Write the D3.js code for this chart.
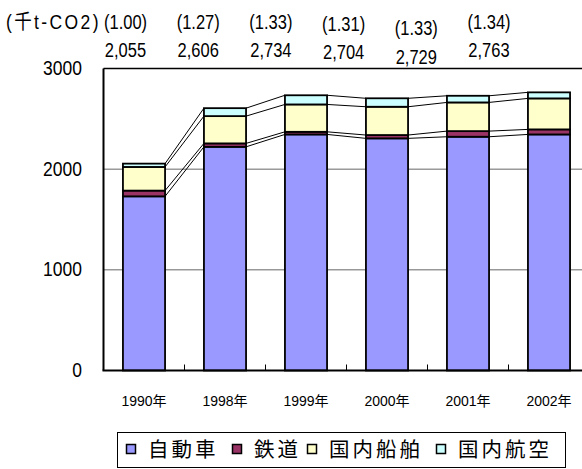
<!DOCTYPE html>
<html>
<head>
<meta charset="utf-8">
<script src="https://cdn.jsdelivr.net/npm/d3@7"></script>
<style>
  html, body { margin: 0; padding: 0; background: #fff; }
  svg { display: block; }
  text { font-family: "Liberation Sans", Arial, "Noto Sans CJK JP", sans-serif; fill: #000; }
  .jp { font-family: "Noto Sans CJK JP", sans-serif; }
</style>
</head>
<body>
<svg id="chart" width="582" height="469"></svg>
<script>
// 運輸部門 CO2 排出量（千t-CO2）
const years  = ["1990年", "1998年", "1999年", "2000年", "2001年", "2002年"];
const car    = [1730, 2222, 2345, 2306, 2322, 2345];   // 自動車
const rail   = [57, 34, 26, 33, 56, 50];               // 鉄道
const ship   = [235, 271, 272, 281, 285, 308];         // 国内船舶
const air    = [33, 79, 91, 84, 66, 60];               // 国内航空
const ratios = ["(1.00)", "(1.27)", "(1.33)", "(1.31)", "(1.33)", "(1.34)"];
const yTicks = [0, 1000, 2000, 3000];
const seriesNames  = ["自動車", "鉄道", "国内船舶", "国内航空"];
const seriesColors = ["#9999ff", "#993366", "#ffffcc", "#ccffff"];

// small vertical nudges for the header labels
const ratioNudge = [0, 0, 0, 1.5, 6, 0];
const totalNudge = [0, 0, -0.5, 2, 6.5, 0];

const svg = d3.select("#chart");

// text slightly stretched vertically, anchored at (px, py)
function tallText(g, px, py, sy) {
  return g.append("text").attr("transform", `translate(${px},${py}) scale(1,${sy})`);
}

const rows = years.map((y, i) => ({ year: y, 自動車: car[i], 鉄道: rail[i], 国内船舶: ship[i], 国内航空: air[i] }));
const stacked = d3.stack().keys(seriesNames)(rows);
const totals = rows.map((r, i) => stacked[stacked.length - 1][i][1]);

const plot = { left: 103.5, right: 589.5, top: 68.5, bottom: 370.5 };

const x = d3.scaleBand().domain(years).range([plot.left, plot.right])
  .paddingInner(0.48).paddingOuter(0.24);
const y = d3.scaleLinear().domain([0, 3000]).range([plot.bottom, plot.top]);

// gridlines
svg.append("g").selectAll("line").data(yTicks.filter(t => t > 0 && t < 3000)).join("line")
  .attr("x1", plot.left).attr("x2", plot.right)
  .attr("y1", d => y(d)).attr("y2", d => y(d))
  .attr("stroke", "#666").attr("stroke-width", 1);

// top border of plot area
svg.append("line").attr("x1", plot.left).attr("x2", plot.right)
  .attr("y1", y(3000)).attr("y2", y(3000)).attr("stroke", "#000").attr("stroke-width", 1.6);

// series lines connecting the segment tops of neighbouring bars
const lineG = svg.append("g");
stacked.forEach(layer => {
  for (let i = 0; i < years.length - 1; i++) {
    lineG.append("line")
      .attr("x1", x(years[i]) + x.bandwidth()).attr("y1", y(layer[i][1]))
      .attr("x2", x(years[i + 1])).attr("y2", y(layer[i + 1][1]))
      .attr("stroke", "#000").attr("stroke-width", 1);
  }
});

// stacked bars
svg.append("g").selectAll("g").data(stacked).join("g")
  .attr("fill", (d, i) => seriesColors[i])
  .selectAll("rect").data(d => d).join("rect")
  .attr("x", d => x(d.data.year))
  .attr("width", x.bandwidth())
  .attr("y", d => y(d[1]))
  .attr("height", d => y(d[0]) - y(d[1]))
  .attr("stroke", "#000").attr("stroke-width", 1.8);

// left axis line
svg.append("line").attr("x1", plot.left).attr("x2", plot.left)
  .attr("y1", plot.top).attr("y2", plot.bottom).attr("stroke", "#000").attr("stroke-width", 2);

// bottom axis with inward ticks at category boundaries
const step = x.step();
svg.append("g").selectAll("line").data(years.slice(1)).join("line")
  .attr("x1", d => x(d) - x.paddingInner() * step / 2)
  .attr("x2", d => x(d) - x.paddingInner() * step / 2)
  .attr("y1", plot.bottom).attr("y2", plot.bottom - 6)
  .attr("stroke", "#000").attr("stroke-width", 1);
svg.append("line").attr("x1", plot.left - 1).attr("x2", plot.right)
  .attr("y1", plot.bottom).attr("y2", plot.bottom).attr("stroke", "#000").attr("stroke-width", 2.2);

// y-axis labels
const yl = svg.append("g");
yTicks.forEach(t => {
  tallText(yl, 82, y(t) + 6.5, 1.12)
    .attr("text-anchor", "end").style("font-size", "17.5px").text(t);
});

// x-axis labels
svg.append("g").selectAll("text").data(years).join("text")
  .attr("x", d => x(d) + x.bandwidth() / 2)
  .attr("y", 406)
  .attr("text-anchor", "middle")
  .style("font-size", "14px")
  .text(d => d);

// header: unit, ratios to 1990, totals
const hx = d3.scalePoint().domain(years).range([125.5, 489]);
const hg = svg.append("g");
tallText(hg, 6, 29, 1.18).style("font-size", "17.5px").style("letter-spacing", "2.4px").text("(千t-CO2)");
ratios.forEach((r, i) => {
  tallText(hg, hx(years[i]), 29 + ratioNudge[i], 1.18)
    .attr("text-anchor", "middle").style("font-size", "16.5px").text(r);
});
totals.forEach((v, i) => {
  tallText(hg, hx(years[i]), 57 + totalNudge[i], 1.18)
    .attr("text-anchor", "middle").style("font-size", "16.5px").text(d3.format(",")(v));
});

// legend
const lg = svg.append("g");
lg.append("rect").attr("x", 117.5).attr("y", 432.5).attr("width", 448).attr("height", 35)
  .attr("fill", "#fff").attr("stroke", "#000").attr("stroke-width", 1);
const legendX = [126, 232, 307, 436];
seriesNames.forEach((name, i) => {
  lg.append("rect").attr("x", legendX[i] + 0.5).attr("y", 444.5).attr("width", 9).attr("height", 9)
    .attr("fill", seriesColors[i]).attr("stroke", "#000").attr("stroke-width", 1.5);
  lg.append("text").attr("class", "jp").attr("x", legendX[i] + 22).attr("y", 457)
    .style("font-size", "20.5px").style("letter-spacing", "3px").text(name);
});
</script>
</body>
</html>
